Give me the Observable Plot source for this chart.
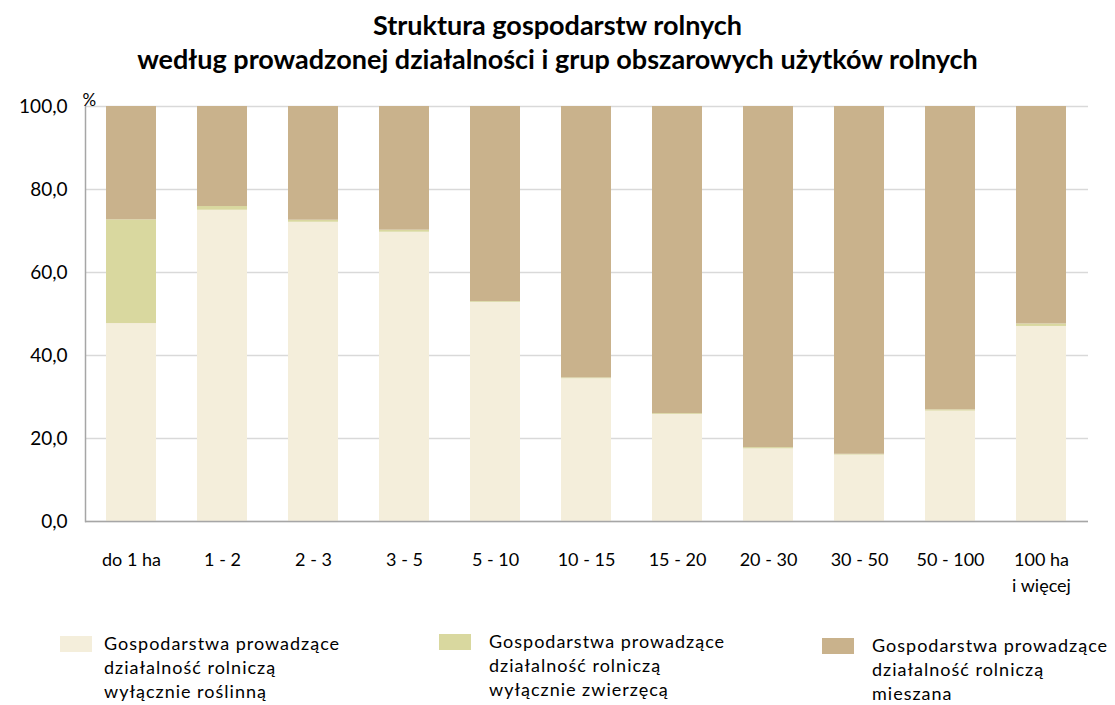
<!DOCTYPE html>
<html>
<head>
<meta charset="utf-8">
<script src="https://cdn.jsdelivr.net/npm/d3@7"></script>
<script src="https://cdn.jsdelivr.net/npm/@observablehq/plot@0.6"></script>
<style>
  html, body { margin: 0; padding: 0; background: #fff; }
  body { width: 1115px; height: 705px; overflow: hidden; font-family: Lato, "Open Sans", sans-serif; color: #000; }
  #title { padding-top: 8px; text-align: center; font-weight: bold; font-size: 27px; line-height: 34px; height: 69px; }
  #chart svg { display: block; }
  #legend { position: relative; height: 100px; }
  .item { position: absolute; top: 0; font-size: 18px; letter-spacing: 1px; line-height: 24px; white-space: nowrap; }
  .sw { position: absolute; width: 32px; height: 16px; }
</style>
</head>
<body>
<div id="title">Struktura gospodarstw rolnych<br>według prowadzonej działalności i grup obszarowych użytków rolnych</div>
<div id="chart"></div>
<div id="legend"></div>
<script>
const categories = ["do 1 ha", "1 - 2", "2 - 3", "3 - 5", "5 - 10", "10 - 15", "15 - 20", "20 - 30", "30 - 50", "50 - 100", "100 ha\ni więcej"];
const seriesNames = [
  "Gospodarstwa prowadzące\ndziałalność  rolniczą\nwyłącznie roślinną",
  "Gospodarstwa prowadzące\ndziałalność rolniczą\nwyłącznie zwierzęcą",
  "Gospodarstwa prowadzące\ndziałalność rolniczą\nmieszana"
];
const seriesColors = ["#F4EEDB", "#D9D89F", "#C9B28C"];
const plant  = [47.7, 75.0, 72.1, 69.7, 52.8, 34.4, 25.8, 17.5, 16.0, 26.6, 47.0];
const animal = [25.0, 0.9, 0.5, 0.5, 0.2, 0.2, 0.2, 0.3, 0.2, 0.3, 0.6];
const mixed  = [27.3, 24.1, 27.4, 29.8, 47.0, 65.4, 74.0, 82.2, 83.8, 73.1, 52.4];
const yTicks = [0, 20, 40, 60, 80, 100];

const seriesValues = [plant, animal, mixed];
const data = [];
seriesValues.forEach((vals, s) => {
  vals.forEach((v, i) => data.push({category: categories[i], series: seriesNames[s], value: v}));
});

const fmt = d => d3.format(".1f")(d).replace(".", ",");

const chart = Plot.plot({
  width: 1115,
  height: 521,
  marginTop: 29,
  marginLeft: 85,
  marginRight: 27,
  marginBottom: 77,
  style: {fontFamily: "Lato, 'Open Sans', sans-serif", fontSize: "16px", color: "#000", background: "#fff"},
  x: {domain: categories, paddingInner: 0.45, paddingOuter: 0.225, label: null},
  y: {domain: [0, 100], label: null},
  color: {domain: seriesNames, range: seriesColors},
  marks: [
    Plot.gridY(yTicks, {stroke: "#d9d9d9", strokeOpacity: 1, strokeWidth: 1.5}),
    Plot.barY(data, {x: "category", y: "value", z: "series", fill: "series", order: null}),
    Plot.ruleY([0], {stroke: "#a6a6a6", strokeWidth: 1.5}),
    Plot.frame({anchor: "left", stroke: "#a6a6a6", strokeWidth: 1.5}),
    Plot.axisY({ticks: yTicks, tickSize: 0, tickPadding: 18, tickFormat: fmt, label: null, fontSize: 19, style: {letterSpacing: "0.6px"}}),
    Plot.axisX({tickSize: 0, tickPadding: 26, label: null, fontSize: 18, lineHeight: 1.45, style: {letterSpacing: "0.5px"}}),
    Plot.text(["%"], {frameAnchor: "top-left", dx: -3, dy: -13, text: d => d, fontSize: 17, textAnchor: "start"})
  ]
});
document.getElementById("chart").appendChild(chart);

const legend = document.getElementById("legend");
const legendLeft = [60, 439, 822];
const textLeft = [104, 489, 872];
const topOffset = [4, 2, 6];
seriesNames.forEach((name, i) => {
  const sw = document.createElement("div");
  sw.className = "sw";
  sw.style.left = legendLeft[i] + "px";
  sw.style.top = (topOffset[i] + 34) + "px";
  sw.style.background = seriesColors[i];
  legend.appendChild(sw);
  const t = document.createElement("div");
  t.className = "item";
  t.style.left = textLeft[i] + "px";
  t.style.top = (topOffset[i] + 29) + "px";
  t.innerHTML = name.split("\n").join("<br>");
  legend.appendChild(t);
});
</script>
</body>
</html>
